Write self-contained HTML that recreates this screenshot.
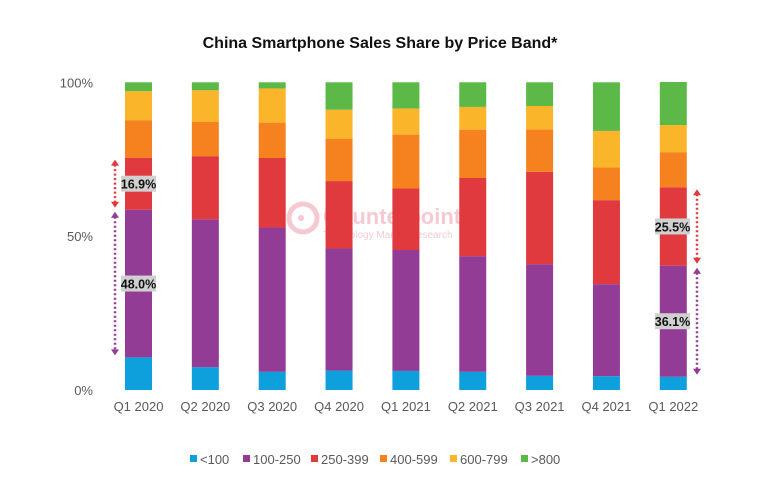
<!DOCTYPE html>
<html><head><meta charset="utf-8">
<style>
body{margin:0;background:#fff;}
svg{display:block;font-family:"Liberation Sans",sans-serif;}
</style></head>
<body>
<svg id="chart" width="760" height="497" viewBox="0 0 760 497">
<text x="380" y="48" text-anchor="middle" font-size="16" font-weight="bold" fill="#111">China Smartphone Sales Share by Price Band*</text>
<g opacity="0.3">
<circle cx="303" cy="218" r="14" fill="none" stroke="#e0506a" stroke-width="5"/>
<circle cx="301" cy="218" r="3" fill="#e0506a"/>
<text x="323" y="224" font-size="22" font-weight="bold" fill="#e0506a">Counterpoint</text>
<text x="323" y="238" font-size="10" fill="#e0506a">Technology Market Research</text>
</g>
<g id="yaxis"></g>
<g id="bars"></g>
<g id="xaxis"></g>
<g id="annot"></g>
<g id="legend"></g>
</svg>
<script>
const categories=["Q1 2020","Q2 2020","Q3 2020","Q4 2020","Q1 2021","Q2 2021","Q3 2021","Q4 2021","Q1 2022"];
const seriesNames=["<100","100-250","250-399","400-599","600-799",">800"];
const s_lt100=[10.6,7.4,5.9,6.3,6.2,5.9,4.6,4.5,4.3];
const s_100_250=[48.0,48.1,46.9,39.7,39.3,37.6,36.3,29.9,36.1];
const s_250_399=[16.9,20.5,22.6,21.9,20.0,25.4,30.0,27.3,25.5];
const s_400_599=[12.2,11.1,11.5,13.8,17.5,15.7,13.8,10.6,11.4];
const s_600_799=[9.4,10.3,11.1,9.4,8.5,7.4,7.6,11.9,8.8];
const s_gt800=[2.9,2.6,2.0,8.9,8.5,8.0,7.7,15.8,14.0];
const yTicks=[0,50,100];
const yTickLabels=["0%","50%","100%"];
const colors=["#0ea0dc","#923c96","#e0393e","#f5821f","#fbb52a","#5cb947"];
const NS="http://www.w3.org/2000/svg";
const series=[s_lt100,s_100_250,s_250_399,s_400_599,s_600_799,s_gt800];
const y0=390,y100=82.3,x0=138.5,step=66.85,bw=27;
function yScale(v){return y0-(y0-y100)*v/100;}
function xScale(i){return x0+i*step;}
function mk(tag,attrs,parent){const e=document.createElementNS(NS,tag);for(const k in attrs)e.setAttribute(k,attrs[k]);parent.appendChild(e);return e;}
const yax=document.getElementById('yaxis');
yTicks.forEach((t,i)=>{const e=mk('text',{x:93,y:yScale(t)+5,'text-anchor':'end','font-size':13,fill:'#595959'},yax);e.textContent=yTickLabels[i];

});
const bars=document.getElementById('bars');
categories.forEach((c,i)=>{let cum=0;series.forEach((s,j)=>{const v=s[i];const r=mk('rect',{x:xScale(i)-bw/2,y:yScale(cum+v),width:bw,height:yScale(cum)-yScale(cum+v),fill:colors[j]},bars);


cum+=v;});});
const xax=document.getElementById('xaxis');
categories.forEach((c,i)=>{const e=mk('text',{x:xScale(i),y:411,'text-anchor':'middle','font-size':13,fill:'#595959'},xax);e.textContent=c;

});
const an=document.getElementById('annot');
function arrow(x,lo,hi,col,label,lx){const ya=yScale(hi)+2,yb=yScale(lo)-2;
const l=mk('line',{x1:x,y1:ya+5,x2:x,y2:yb-5,stroke:col,'stroke-width':2.5,'stroke-dasharray':'2 2.5'},an);


mk('polygon',{points:`${x-4},${ya+6} ${x+4},${ya+6} ${x},${ya}`,fill:col},an);
mk('polygon',{points:`${x-4},${yb-6} ${x+4},${yb-6} ${x},${yb}`,fill:col},an);
const ym=(yScale(lo)+yScale(hi))/2;
const r=mk('rect',{x:lx,y:ym-8,width:35,height:16,fill:'#d0d0d0'},an);
const t=mk('text',{x:lx+17.5,y:ym+5,'text-anchor':'middle','font-size':12.5,'font-weight':'bold',fill:'#111'},an);t.textContent=label;

}
{const i=0;const b=s_lt100[i],p=s_100_250[i],r=s_250_399[i];
arrow(115,b,b+p,'#923c96',p.toFixed(1)+'%',121);
arrow(115,b+p,b+p+r,'#e0393e',r.toFixed(1)+'%',121);}
{const i=8;const b=s_lt100[i],p=s_100_250[i],r=s_250_399[i];
arrow(697,b,b+p,'#923c96',p.toFixed(1)+'%',655);
arrow(697,b+p,b+p+r,'#e0393e',r.toFixed(1)+'%',655);}
const lg=document.getElementById('legend');
const lx=[190,243,311,380,450,521];
seriesNames.forEach((n,j)=>{const g=mk('g',{},lg);


mk('rect',{x:lx[j],y:455,width:7,height:7,fill:colors[j]},g);
const t=mk('text',{x:lx[j]+10,y:464,'font-size':13,fill:'#595959'},g);t.textContent=n;});
</script>
</body></html>
